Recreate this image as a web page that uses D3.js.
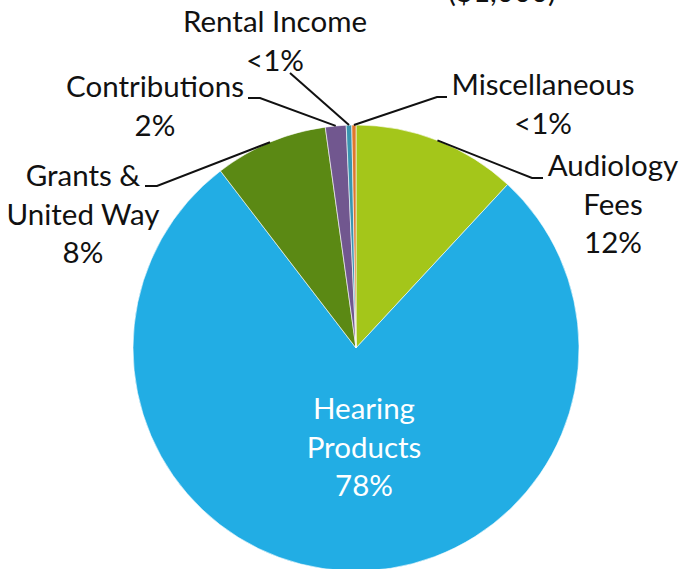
<!DOCTYPE html>
<html lang="en">
<head>
    <meta charset="UTF-8">
    <title>Revenue pie</title>
    <script src="https://cdn.jsdelivr.net/npm/d3@7"></script>
    <style>
        body { margin: 0; background: #fff; }
        svg text { font-family: Lato, "Open Sans", sans-serif; font-size: 29.5px; fill: #111; }
        .leader { fill: none; stroke: #111; stroke-width: 2px; }
    </style>
</head>
<body>
<svg id="canvas" width="680" height="569"></svg>
<script>
    // slice data, clockwise from 12 o'clock
    const categories = ["Audiology Fees", "Hearing Products", "Grants & United Way", "Contributions", "Rental Income", "Miscellaneous"];
    const values = [11.9, 77.7, 8.2, 1.5, 0.4, 0.3];
    const pctLabels = ["12%", "78%", "8%", "2%", "<1%", "<1%"];
    const colors = ["#A4C61A", "#22ADE4", "#5B8914", "#71578F", "#3A95B0", "#E0782C"];

    // label text lines + where they go (first baseline)
    const labelLines = [
        ["Audiology", "Fees", "12%"],
        ["Hearing", "Products", "78%"],
        ["Grants &", "United Way", "8%"],
        ["Contributions", "2%"],
        ["Rental Income", "<1%"],
        ["Miscellaneous", "<1%"]
    ];
    const labelPos = [[613, 176], [364, 419], [83, 186], [155, 97], [275, 32], [543, 95]];
    // leader elbow points (null = no leader)
    const elbows = [
        [[532, 178], [543, 178]],
        null,
        [[157, 186], [145, 186]],
        [[260, 98], [248, 98]],
        [[290, 73]],
        [[437, 97], [447, 97]]
    ];

    const W = 680, H = 569;
    const cx = 356, cy = 348, R = 223;
    const lineH = 38.5;

    let svg = d3.select("svg");

    // title sits above the frame, only its bottom edge shows
    svg.append("text")
        .attr("x", 556).attr("y", 1.5)
        .attr("text-anchor", "end")
        .text("($1,000)");

    let pie = d3.pie().sort(null).value(d => d)(values);
    let arc = d3.arc().innerRadius(0).outerRadius(R);

    let g = svg.append("g").attr("transform", `translate(${cx},${cy})`);
    g.selectAll("path")
        .data(pie)
        .enter()
        .append("path")
        .attr("d", arc)
        .attr("fill", (d, i) => colors[i])
        .attr("stroke", "#fff")
        .attr("stroke-width", 0.6);

    // leader lines start on the rim at each slice's mid angle
    pie.forEach((d, i) => {
        if (!elbows[i]) return;
        let a = (d.startAngle + d.endAngle) / 2;
        let start = [cx + R * Math.sin(a), cy - R * Math.cos(a)];
        svg.append("path")
            .attr("class", "leader")
            .attr("d", d3.line()([start].concat(elbows[i])));
    });

    // labels
    labelLines.forEach((lines, i) => {
        let t = svg.append("text")
            .attr("text-anchor", "middle")
            .style("fill", i === 1 ? "#fff" : "#111");
        lines.forEach((s, k) => {
            t.append("tspan")
                .attr("x", labelPos[i][0])
                .attr("y", labelPos[i][1] + k * lineH)
                .text(s);
        });
    });
</script>
</body>
</html>
